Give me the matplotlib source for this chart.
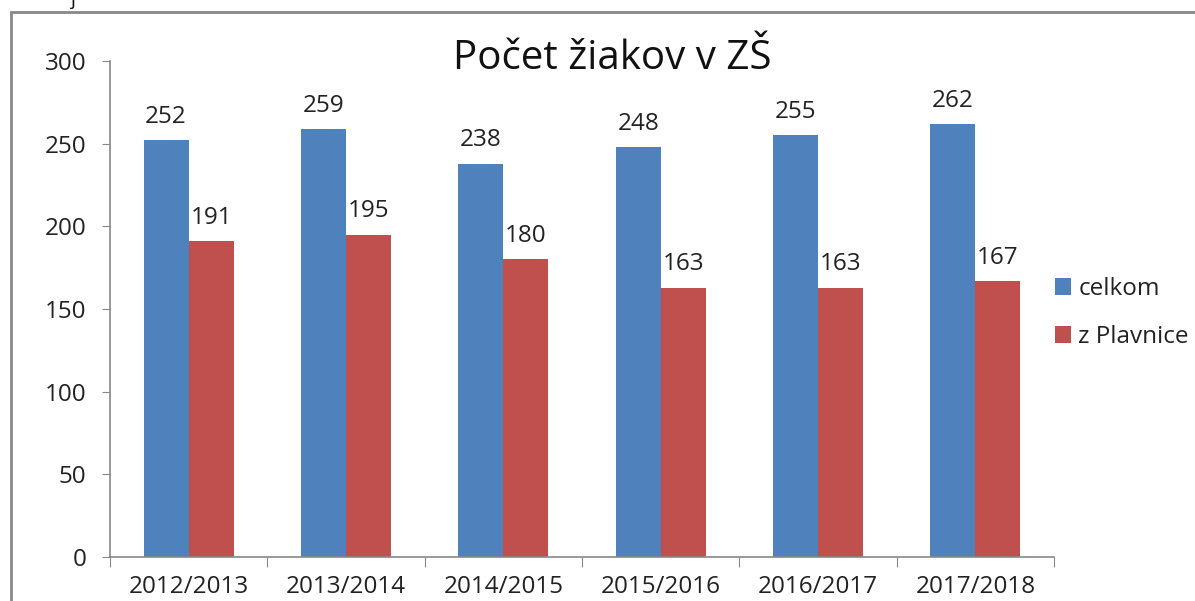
import matplotlib.pyplot as plt
import numpy as np
from matplotlib.patches import Rectangle

plt.rcParams['font.family'] = ['Open Sans', 'DejaVu Sans']

# chart data
years = ['2012/2013', '2013/2014', '2014/2015', '2015/2016', '2016/2017', '2017/2018']
celkom = [252, 259, 238, 248, 255, 262]
z_plavnice = [191, 195, 180, 163, 163, 167]
series_names = ['celkom', 'z Plavnice']

blue = '#4F81BD'
red = '#C0504D'
txt = '#222222'
fs = 17.5

fig = plt.figure(figsize=(11.95, 6.01), dpi=100)
ax = fig.add_axes([0.092, 0.0732, 0.79, 0.8253])

x = np.arange(len(years))
w = 0.286
b1 = ax.bar(x - w / 2, celkom, w, color=blue, label=series_names[0])
b2 = ax.bar(x + w / 2, z_plavnice, w, color=red, label=series_names[1])

# value labels above bars
for bars in (b1, b2):
    for rect in bars:
        h = rect.get_height()
        ax.annotate(str(int(h)), (rect.get_x() + rect.get_width() / 2, h),
                    xytext=(0, 8), textcoords='offset points',
                    ha='center', va='bottom', fontsize=fs, color=txt)

ax.set_xlim(-0.5, len(years) - 0.5)
ax.set_ylim(0, 300)
ax.set_yticks(range(0, 301, 50))
ax.tick_params(axis='y', labelsize=fs, length=6, color='#888888', labelcolor=txt, pad=11)

# category labels between boundary ticks
ax.set_xticks(np.arange(-0.5, len(years)), minor=False)
ax.set_xticklabels([])
ax.set_xticks(x, minor=True)
ax.set_xticklabels(years, minor=True)
ax.tick_params(axis='x', which='major', length=7, color='#888888')
ax.tick_params(axis='x', which='minor', length=0, labelsize=fs, labelcolor=txt, pad=13)

for s in ['top', 'right']:
    ax.spines[s].set_visible(False)
for s in ['left', 'bottom']:
    ax.spines[s].set_color('#888888')
    ax.spines[s].set_linewidth(1.2)

fig.text(0.512, 1 - 69 / 601, 'Počet žiakov v ZŠ', ha='center', va='baseline',
         fontsize=29, color='#111111')

ax.legend(loc='center left', bbox_to_anchor=(1055 / 1195, 1 - 313 / 601),
          bbox_transform=fig.transFigure, frameon=False, borderpad=0, borderaxespad=0,
          fontsize=fs, handlelength=0.66, handleheight=0.66, handletextpad=0.3,
          labelspacing=1.0, labelcolor=txt)

# outer chart frame (cut off at right and bottom)
fig.patches.append(Rectangle((11 / 1195, -0.1), 1.2, 1 - 12 / 601 + 0.1,
                             transform=fig.transFigure, fill=False,
                             edgecolor='#888888', linewidth=2))
fig.text(70 / 1195, 1.0, 'j', ha='left', va='center', fontsize=14, color='#111111')

fig.savefig('out.png', dpi=100)
